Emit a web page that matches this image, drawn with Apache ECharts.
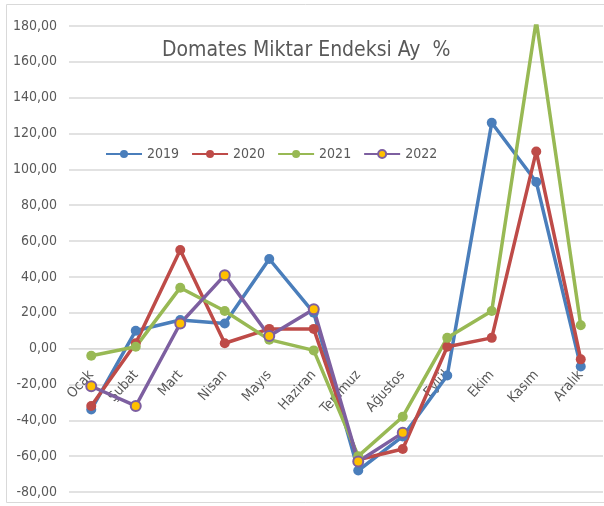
<!DOCTYPE html>
<html>
<head>
<meta charset="utf-8">
<script src="https://cdn.jsdelivr.net/npm/echarts@6/dist/echarts.min.js"></script>
<style>
  html, body { margin: 0; padding: 0; background: #fff; }
  #chart { width: 604px; height: 506px; }
</style>
</head>
<body>
<div id="chart"></div>
<script>
const months = ['Ocak', 'Şubat', 'Mart', 'Nisan', 'Mayıs', 'Haziran', 'Temmuz', 'Ağustos', 'Eylül', 'Ekim', 'Kasım', 'Aralık'];
const years = ['2019', '2020', '2021', '2022'];
const values2019 = [-34, 10, 16, 14, 50, 20, -68, -49, -15, 126, 93, -10];
const values2020 = [-32, 3, 55, 3, 11, 11, -62, -56, 1, 6, 110, -6];
const values2021 = [-4, 1, 34, 21, 5, -1, -60, -38, 6, 21, 183, 13];
const values2022 = [-21, -32, 14, 41, 7, 22, -63, -47, null, null, null, null];

const yMin = -80;
const yMax = 180;

const chart = echarts.init(document.getElementById('chart'));

const font = "'DejaVu Sans Condensed', sans-serif";
const colors = ['#4a7ebb', '#be4b48', '#98b954', '#7d5fa0'];

// grid geometry, used to move the category labels up to the zero line
const gridTop = 26;
const gridBottom = 14;
const plotHeight = 506 - gridTop - gridBottom;
const zeroOffset = -plotHeight * (0 - yMin) / (yMax - yMin);

function lineSeries(name, data, color, fill) {
  return {
    name: name,
    type: 'line',
    data: data,
    symbol: 'circle',
    symbolSize: 10,
    lineStyle: { width: 3.5, color: color },
    itemStyle: { color: fill || color, borderColor: color, borderWidth: fill ? 2 : 0 }
  };
}

chart.setOption({
  animation: false,
  graphic: [{
    type: 'rect',
    shape: { x: 6.5, y: 4.5, width: 640, height: 498 },
    style: { fill: 'none', stroke: '#d9d9d9', lineWidth: 1 },
    silent: true
  }],
  title: {
    text: 'Domates Miktar Endeksi Ay  %',
    left: 157,
    top: 35,
    textStyle: { fontFamily: font, fontSize: 21, fontWeight: 'normal', color: '#595959' }
  },
  legend: {
    left: 100,
    top: 142,
    itemWidth: 36,
    itemHeight: 10,
    itemGap: 12,
    textStyle: { fontFamily: font, fontSize: 14, color: '#595959' },
    data: years
  },
  grid: { left: 69, right: 1, top: gridTop, bottom: gridBottom, containLabel: false, outerBoundsMode: 'none' },
  xAxis: {
    type: 'category',
    data: months,
    offset: zeroOffset,
    axisLine: { onZero: false, lineStyle: { color: '#d9d9d9' } },
    axisTick: { show: false },
    axisLabel: {
      rotate: 48,
      interval: 0,
      margin: 24,
      fontFamily: font,
      fontSize: 14,
      color: '#595959'
    }
  },
  yAxis: {
    type: 'value',
    min: yMin,
    max: yMax,
    interval: 20,
    axisLine: { show: false },
    axisTick: { show: false },
    splitLine: { lineStyle: { color: '#d9d9d9', width: 1.5 } },
    axisLabel: {
      margin: 12,
      fontFamily: font,
      fontSize: 14,
      color: '#595959',
      formatter: v => v.toFixed(2).replace('.', ',')
    }
  },
  series: [
    lineSeries(years[0], values2019, colors[0]),
    lineSeries(years[1], values2020, colors[1]),
    lineSeries(years[2], values2021, colors[2]),
    lineSeries(years[3], values2022, colors[3], '#ffc000')
  ]
});
</script>
</body>
</html>
